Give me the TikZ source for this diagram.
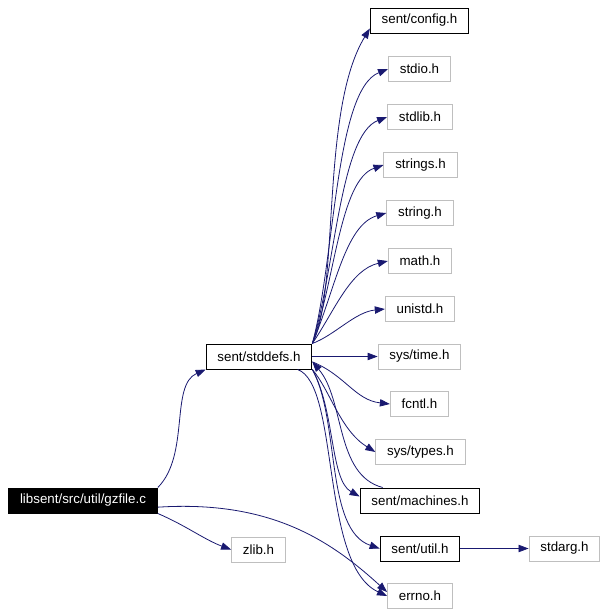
\documentclass[tikz,border=0pt]{standalone}
\usepackage{fontspec}
\setmainfont{Liberation Sans}
\usetikzlibrary{arrows.meta}
\definecolor{edgeblue}{RGB}{25,25,112}
\definecolor{boxgray}{RGB}{191,191,191}
\tikzset{>={Triangle[length=7.5pt,width=5.5pt]}}
\tikzset{
  hdr/.style={draw=boxgray,line width=0.75pt,minimum height=18.75pt,inner xsep=8.5pt,inner ysep=0pt,font=\fontsize{10pt}{12pt}\selectfont},
  hdrdoc/.style={hdr,draw=black},
  srcfile/.style={hdr,draw=black,fill=black,text=white},
  dep/.style={->,draw=edgeblue,fill=none,line width=0.6pt}
}

\begin{document}
\begin{tikzpicture}[x=0.75pt,y=-0.75pt]
\useasboundingbox (0,0) rectangle (607,615);
% the file and the headers it pulls in
\node[srcfile] (gz) at (83,500.5) {libsent/src/util/gzfile.c};
\node[hdrdoc] (sd) at (259,356.5) {sent/stddefs.h};
\node[hdr] (zl) at (258.5,549.5) {zlib.h};
\node[hdrdoc] (cfg) at (419.5,20.5) {sent/config.h};
\node[hdr] (sio) at (419.5,69) {stdio.h};
\node[hdr] (slb) at (420,117) {stdlib.h};
\node[hdr] (sts) at (420.5,165) {strings.h};
\node[hdr] (str) at (420,213) {string.h};
\node[hdr] (mth) at (420,261) {math.h};
\node[hdr] (uni) at (420,309) {unistd.h};
\node[hdr] (stm) at (419.5,356.5) {sys/time.h};
\node[hdr] (fct) at (419.5,404) {fcntl.h};
\node[hdr] (sty) at (420.5,452) {sys/types.h};
\node[hdrdoc] (mch) at (420,500.5) {sent/machines.h};
\node[hdrdoc] (utl) at (420,548.5) {sent/util.h};
\node[hdr] (ern) at (420,596) {errno.h};
\node[hdr] (sag) at (564.5,548.5) {stdarg.h};
% edges from the source file
\draw[dep] (gz.north east) .. controls (190,455) and (170,385) .. (sd.south west);
\draw[dep] (gz.south east) .. controls (185,525) and (205,540) .. (zl.west);
\draw[dep] ([yshift=-5pt]gz.east) .. controls (270,500) and (330,540) .. ([yshift=3pt]ern.west);
% edges from stddefs.h
\draw[dep] (sd.north east) .. controls (340,290) and (320,110) .. ([yshift=-6pt]cfg.west);
\draw[dep] (sd.north east) .. controls (335,260) and (335,90) .. (sio.west);
\draw[dep] (sd.north east) .. controls (335,270) and (340,135) .. (slb.west);
\draw[dep] (sd.north east) .. controls (335,280) and (340,180) .. (sts.west);
\draw[dep] (sd.north east) .. controls (335,290) and (345,225) .. (str.west);
\draw[dep] (sd.north east) .. controls (335,310) and (350,270) .. (mth.west);
\draw[dep] (sd.north east) .. controls (335,335) and (355,312) .. (uni.west);
\draw[dep] (sd.east) -- (stm.west);
\draw[dep] ([yshift=-4pt]sd.east) .. controls (345,375) and (355,400) .. (fct.west);
\draw[dep] (sd.south east) .. controls (330,390) and (340,430) .. (sty.west);
\draw[dep] (sd.south east) .. controls (335,410) and (330,480) .. ([yshift=3pt]mch.west);
\draw[dep] (sd.south east) .. controls (340,420) and (325,530) .. (utl.west);
\draw[dep] ([xshift=29pt]sd.south) .. controls (340,385) and (320,565) .. (ern.west);
% back edge and the last one
\draw[dep] ([xshift=-28pt]mch.north) .. controls (335,475) and (345,400) .. ([yshift=-4pt]sd.east);
\draw[dep] (utl.east) -- (sag.west);
\end{tikzpicture}
\end{document}
